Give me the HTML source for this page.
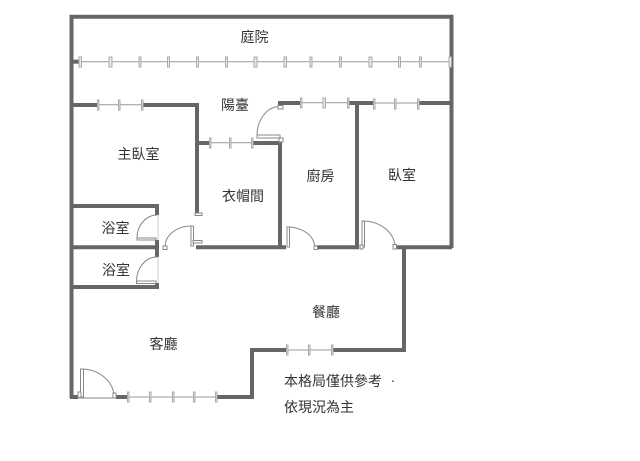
<!DOCTYPE html>
<html><head><meta charset="utf-8"><style>
html,body{margin:0;padding:0;background:#fff;width:640px;height:461px;overflow:hidden}
svg{display:block;filter:blur(.35px)}
text{font-family:"Liberation Sans","Noto Sans CJK TC",sans-serif;font-size:14px;fill:#333;text-anchor:middle}
.w{stroke:#666;stroke-width:4;fill:none;stroke-linecap:butt}
.g{stroke:#999;stroke-width:1;fill:none}
.t{fill:#e8e8e8;stroke:#aaa;stroke-width:1}
.d{fill:#fff;stroke:#888;stroke-width:1}
</style></head><body>
<svg width="640" height="461" viewBox="0 0 640 461" xmlns="http://www.w3.org/2000/svg">
<!-- walls -->
<path class="w" d="M71.500 398V16.800H451.500V248"/>
<path class="w" d="M72 61.700H79"/>
<path class="w" d="M72 105H97M142 105H199M197 105V213M197 143H210M253 143H282M280 143V248M196 247.200H286M316 247.200H359M357 103V248M278 103H300M349 103H374M419 103H452M396 247.200H452"/>
<path class="w" d="M72 206H159M72 247.200H159M72 287H159M157 204V215M157 240V257M157 283V289"/>
<path class="w" d="M404 247V352M333 350H406M286 350H250M252 349V399M217 397H254M116 397H128M70 397H78"/>
<!-- window rails -->
<g class="g">
<path d="M79 61.700H451"/>
<path d="M97 104.700H142M210 142.700H252M300 102.700H348M374 103H418"/>
<path d="M286 350H333M128 397H216"/>
</g>
<!-- window ticks -->
<g class="t">
<rect x="79" y="57" width="2.500" height="10"/><rect x="109" y="57" width="3" height="10"/><rect x="139" y="57" width="2" height="10"/><rect x="167.500" y="57" width="2" height="10"/><rect x="196.500" y="57" width="2" height="10"/><rect x="225.500" y="57" width="2" height="10"/><rect x="254" y="57" width="3" height="10"/><rect x="284" y="57" width="2.500" height="10"/><rect x="310" y="57" width="2" height="10"/><rect x="339.500" y="57" width="2" height="10"/><rect x="369" y="57" width="3" height="10"/><rect x="398.500" y="57" width="2" height="10"/><rect x="419.500" y="57" width="2" height="10"/><rect x="449" y="57" width="2.500" height="10"/>
<rect x="97.500" y="100" width="1.500" height="10"/><rect x="118.500" y="100" width="1.500" height="10"/><rect x="141.500" y="100" width="1.500" height="10"/>
<rect x="209.500" y="138" width="1.500" height="10"/><rect x="229.500" y="138" width="1.500" height="10"/><rect x="251.500" y="138" width="1.500" height="10"/>
<rect x="300.500" y="98" width="1.500" height="10"/><rect x="323" y="98" width="2.500" height="10"/><rect x="347.500" y="98" width="1.500" height="10"/>
<rect x="373.500" y="99" width="1.500" height="10"/><rect x="394.500" y="99" width="1.500" height="10"/><rect x="417.500" y="99" width="1.500" height="10"/>
<rect x="286.500" y="345" width="1.500" height="10"/><rect x="308.500" y="345" width="1.500" height="10"/><rect x="331.500" y="345" width="1.500" height="10"/>
<rect x="127.500" y="392" width="1.500" height="10"/><rect x="149.500" y="392" width="1.500" height="10"/><rect x="172.500" y="392" width="1.500" height="10"/><rect x="193.500" y="392" width="1.500" height="10"/><rect x="215.500" y="392" width="1.500" height="10"/>
</g>
<!-- doors -->
<g class="d">
<path d="M278.500 106.500A23 29 0 0 0 257 135.500" fill="none"/><rect x="257" y="135" width="23" height="3"/><rect x="278" y="105.500" width="5" height="3.500"/><rect x="279" y="138" width="4" height="4"/>
<path d="M157 215A20 23 0 0 0 137 238" fill="none"/><rect x="137" y="238" width="19" height="2"/>
<path d="M157 257A20 25 0 0 0 136.500 281" fill="none"/><rect x="136.500" y="281" width="19.500" height="2.500"/><path d="M158 215V240M158 257V283" stroke="#ccc"/>
<path d="M165 247A26 21 0 0 1 191 226" fill="none"/><rect x="191" y="226" width="2.500" height="20"/><rect x="163" y="246" width="4" height="3.500"/><rect x="193" y="240.500" width="9" height="2.500"/><rect x="195" y="213" width="7" height="2.500"/>
<path d="M288.500 227A27 20 0 0 1 314.500 246" fill="none"/><rect x="287" y="227" width="2.500" height="20"/><rect x="314" y="246" width="3.500" height="3.500"/>
<path d="M363 221A32 27 0 0 1 395 246" fill="none"/><rect x="362" y="221" width="2.500" height="26"/><rect x="393" y="244.500" width="3.500" height="4.500"/><rect x="360" y="245" width="3" height="4"/>
<path d="M81 369A33 28 0 0 1 114 396" fill="none"/><rect x="80.500" y="369" width="3" height="28"/><rect x="78" y="392" width="3" height="5.500"/><rect x="113" y="393" width="3" height="5"/><path d="M78 398H116"/>
</g>
<!-- labels -->
<text x="254.500" y="42">庭院</text>
<text x="235" y="110">陽臺</text>
<text x="138.500" y="159">主臥室</text>
<text x="243" y="201">衣帽間</text>
<text x="320.500" y="181">廚房</text>
<text x="402" y="180">臥室</text>
<text x="115.500" y="233">浴室</text>
<text x="116" y="275">浴室</text>
<text x="326" y="317">餐廳</text>
<text x="163.500" y="349">客廳</text>
<text x="284" y="386" style="text-anchor:start">本格局僅供參考</text>
<text x="393" y="385">·</text>
<text x="284" y="412" style="text-anchor:start">依現況為主</text>
</svg>
</body></html>
